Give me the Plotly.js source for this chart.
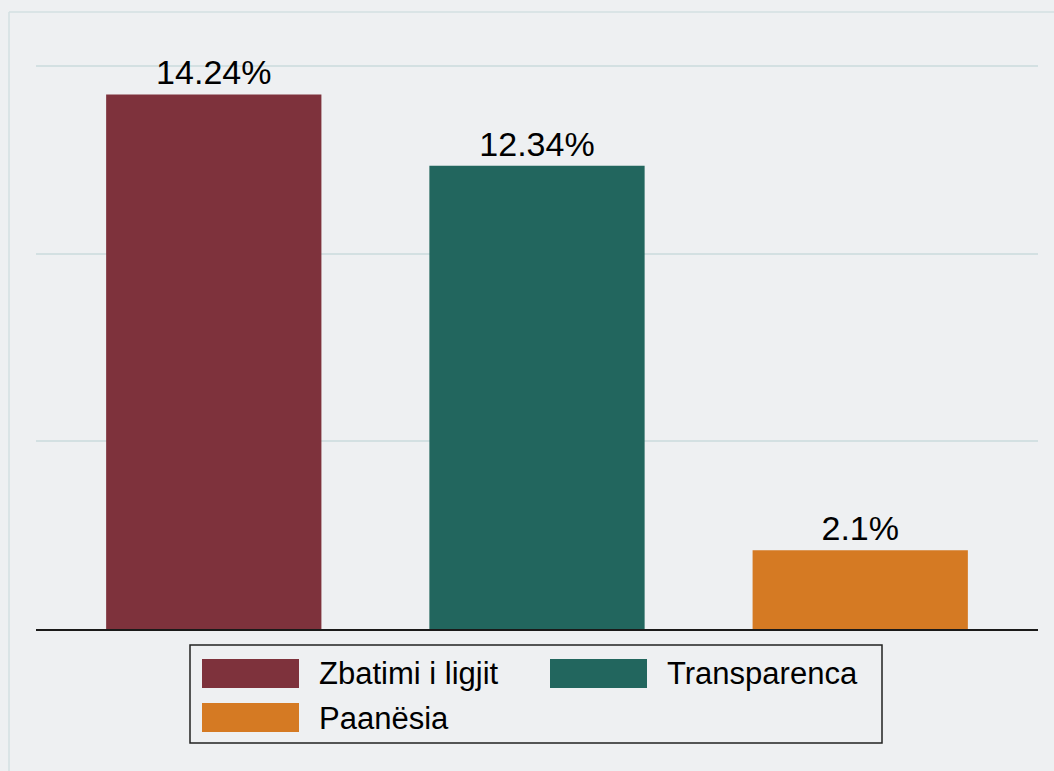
<!DOCTYPE html>
<html>
<head>
<meta charset="utf-8">
<script src="https://cdn.plot.ly/plotly-3.0.1.min.js"></script>
<style>
html,body{margin:0;padding:0;background:#eef0f2;}
#chart{width:1054px;height:771px;}
</style>
</head>
<body>
<div id="chart"></div>
<script>
// Data
const categories = ["Zbatimi i ligjit", "Transparenca", "Paanësia"];
const values = [14.24, 12.34, 2.1];
const labels = ["14.24%", "12.34%", "2.1%"];
const colors = ["#7e323c", "#22665e", "#d57a23"];

const W = 1054, H = 771;
const M = {l: 36, r: 16, t: 46, b: 142};
const PW = W - M.l - M.r, PH = H - M.t - M.b;
const px = x => (x - M.l) / PW;
const py = y => (H - M.b - y) / PH;

const FONT = '"Liberation Sans", Arial, Helvetica, sans-serif';

const traces = categories.map((c, i) => ({
  type: 'bar',
  x: [c],
  y: [values[i]],
  name: c,
  width: 0.666,
  marker: {color: colors[i], line: {width: 0}},
  text: [labels[i]],
  textposition: 'outside',
  textfont: {size: 34, color: '#000', family: FONT},
  cliponaxis: false,
  showlegend: false,
  hoverinfo: 'x+y'
}));

// Legend built from the category names and colors
const shapes = [];
const annotations = [];
// outer frame lines
shapes.push({type: 'line', xref: 'paper', yref: 'paper', x0: px(9), x1: px(1060), y0: py(12), y1: py(12), line: {color: '#d3e0e2', width: 1.5}});
shapes.push({type: 'line', xref: 'paper', yref: 'paper', x0: px(9), x1: px(9), y0: py(12), y1: py(780), line: {color: '#d3e0e2', width: 1.5}});
// legend box
shapes.push({type: 'rect', xref: 'paper', yref: 'paper', x0: px(190), x1: px(882), y0: py(645), y1: py(743), line: {color: '#222', width: 1.5}, fillcolor: 'rgba(0,0,0,0)'});
categories.forEach((c, i) => {
  const col = i % 2, row = Math.floor(i / 2);
  const sx = 202 + col * 348;
  const sy = 659 + row * 44;
  shapes.push({type: 'rect', xref: 'paper', yref: 'paper', x0: px(sx), x1: px(sx + 97), y0: py(sy), y1: py(sy + 29), line: {width: 0}, fillcolor: colors[i]});
  annotations.push({xref: 'paper', yref: 'paper', x: px(sx + 115), y: py(sy + 15), text: c, showarrow: false, xanchor: 'left', yanchor: 'middle', font: {size: 31, color: '#000', family: FONT}});
});

const layout = {
  width: W, height: H,
  margin: M,
  paper_bgcolor: '#eef0f2',
  plot_bgcolor: '#eef0f2',
  barmode: 'overlay',
  showlegend: false,
  font: {family: FONT, color: '#000'},
  xaxis: {
    type: 'category',
    categoryorder: 'array',
    categoryarray: categories,
    range: [-0.55, 2.55],
    showticklabels: false,
    ticks: '',
    showgrid: false,
    zeroline: false,
    showline: true,
    linecolor: '#1a1a1a',
    linewidth: 1.5
  },
  yaxis: {
    range: [0, 15.53],
    tickvals: [5, 10, 15],
    showticklabels: false,
    ticks: '',
    showgrid: true,
    gridcolor: '#d3e0e2',
    gridwidth: 2,
    zeroline: false,
    showline: false
  },
  shapes: shapes,
  annotations: annotations
};

Plotly.newPlot('chart', traces, layout, {displayModeBar: false, staticPlot: true});
</script>
</body>
</html>
